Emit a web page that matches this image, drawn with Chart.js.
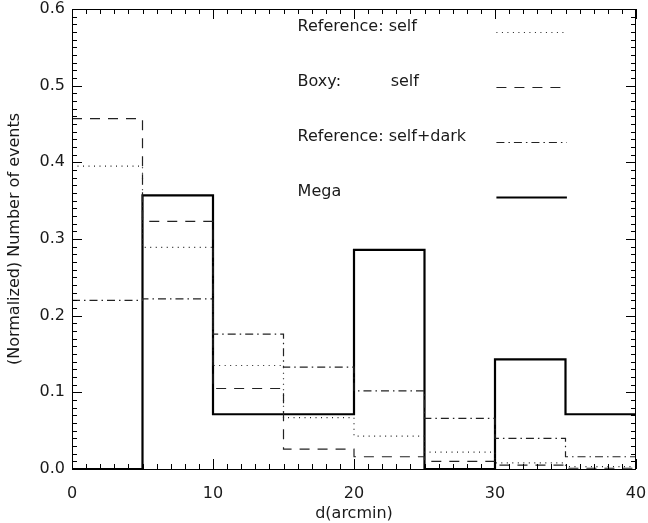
<!DOCTYPE html>
<html><head><meta charset="utf-8">
<script src="https://cdn.jsdelivr.net/npm/chart.js@4.4.0/dist/chart.umd.min.js"></script>
<style>html,body{margin:0;padding:0;background:#fff;}</style>
</head><body>
<canvas id="c" width="648" height="523"></canvas>
<script>
// ---- data ----
const binEdges    = [0, 5, 10, 15, 20, 25, 30, 35, 40];
const refSelf     = [0.395, 0.289, 0.135, 0.067, 0.043, 0.022, 0.008, 0.003];
const boxySelf    = [0.457, 0.323, 0.105, 0.026, 0.016, 0.010, 0.005, 0.001];
const refSelfDark = [0.220, 0.222, 0.176, 0.133, 0.102, 0.066, 0.040, 0.016];
const mega        = [0.0, 0.357, 0.0714, 0.0714, 0.2857, 0.0, 0.1429, 0.0714];
const xTickValues = [0, 10, 20, 30, 40];
const yTickValues = [0.0, 0.1, 0.2, 0.3, 0.4, 0.5, 0.6];
const legendNames = ["Reference: self", "Boxy:", "Reference: self+dark", "Mega"];
const legendExtra = ["", "self", "", ""];
const xTitle = "d(arcmin)";
const yTitle = "(Normalized) Number of events";

const FONT = {family: "DejaVu Sans", size: 16};
const TEXT_COLOR = '#1a1a1a';

function stepPoints(vals) {
  const pts = vals.map((v, i) => ({x: binEdges[i], y: v}));
  pts.push({x: binEdges[binEdges.length - 1], y: vals[vals.length - 1]});
  return pts;
}
const styles = [
  {dash: [1, 4.5], width: 1.2, color: '#222'},
  {dash: [10, 8], width: 1.2, color: '#222'},
  {dash: [8, 4, 1.5, 4], width: 1.2, color: '#222'},
  {dash: [], width: 2.2, color: '#000'}
];
const seriesVals = [refSelf, boxySelf, refSelfDark, mega];
const datasets = seriesVals.map((vals, k) => ({
  label: legendNames[k],
  data: stepPoints(vals),
  stepped: true,
  borderColor: styles[k].color,
  borderWidth: styles[k].width,
  borderDash: styles[k].dash,
  pointRadius: 0,
  fill: false
}));

const framePlugin = {
  id: 'frame',
  afterDraw(chart) {
    const {ctx, chartArea: a, scales: {x, y}} = chart;
    ctx.save();
    ctx.strokeStyle = '#000';
    ctx.lineWidth = 1;
    ctx.strokeRect(a.left + 0.5, a.top + 0.5, a.right - a.left - 1, a.bottom - a.top);
    ctx.beginPath();
    for (let i = 0; i <= 40; i++) {
      const px = Math.round(x.getPixelForValue(i)) + 0.5;
      const L = (i % 10 === 0) ? 10 : 5;
      ctx.moveTo(px, a.bottom); ctx.lineTo(px, a.bottom - L);
      ctx.moveTo(px, a.top); ctx.lineTo(px, a.top + L);
    }
    for (let j = 0; j <= 60; j++) {
      const py = Math.round(y.getPixelForValue(j / 100)) + 0.5;
      const L = (j % 10 === 0) ? 10 : 5;
      ctx.moveTo(a.left, py); ctx.lineTo(a.left + L, py);
      ctx.moveTo(a.right, py); ctx.lineTo(a.right - L, py);
    }
    ctx.stroke();

    // legend (text left, line sample right)
    ctx.font = FONT.size + 'px ' + FONT.family;
    ctx.fillStyle = TEXT_COLOR;
    ctx.textBaseline = 'middle';
    const rowY = [0.577, 0.505, 0.433, 0.361];
    for (let k = 0; k < legendNames.length; k++) {
      const ty = y.getPixelForValue(rowY[k]);
      ctx.fillText(legendNames[k], x.getPixelForValue(16.0), ty);
      if (legendExtra[k]) ctx.fillText(legendExtra[k], x.getPixelForValue(22.6), ty);
      ctx.beginPath();
      ctx.setLineDash(styles[k].dash);
      ctx.lineWidth = styles[k].width;
      ctx.strokeStyle = styles[k].color;
      const ly = Math.round(ty + 5) + 0.5;
      ctx.moveTo(x.getPixelForValue(30.1), ly);
      ctx.lineTo(x.getPixelForValue(35.1), ly);
      ctx.stroke();
    }
    ctx.restore();
  }
};

new Chart(document.getElementById('c'), {
  type: 'line',
  data: {datasets},
  options: {
    responsive: false,
    animation: false,
    layout: {padding: {top: 9, right: 12, left: 0, bottom: 0}},
    plugins: {legend: {display: false}, tooltip: {enabled: false}},
    scales: {
      x: {
        type: 'linear', min: 0, max: 40,
        afterBuildTicks: s => { s.ticks = xTickValues.map(v => ({value: v})); },
        grid: {display: false, drawTicks: false},
        border: {display: false},
        ticks: {font: FONT, color: TEXT_COLOR, padding: 15, maxRotation: 0, autoSkip: false},
        title: {display: true, text: xTitle, font: FONT, color: TEXT_COLOR, padding: {top: 0, bottom: 0}},
        afterFit: s => { s.height = 54; s.paddingLeft = 0; s.paddingRight = 0; }
      },
      y: {
        type: 'linear', min: 0, max: 0.6,
        afterBuildTicks: s => { s.ticks = yTickValues.map(v => ({value: v})); },
        grid: {display: false, drawTicks: false},
        border: {display: false},
        ticks: {font: FONT, color: TEXT_COLOR, padding: 7, callback: v => Number(v).toFixed(1), autoSkip: false},
        title: {display: true, text: yTitle, font: FONT, color: TEXT_COLOR, padding: {top: 5, bottom: 0}},
        afterFit: s => { s.width = 72; s.paddingTop = 0; s.paddingBottom = 0; }
      }
    }
  },
  plugins: [framePlugin]
});
</script>
</body></html>
